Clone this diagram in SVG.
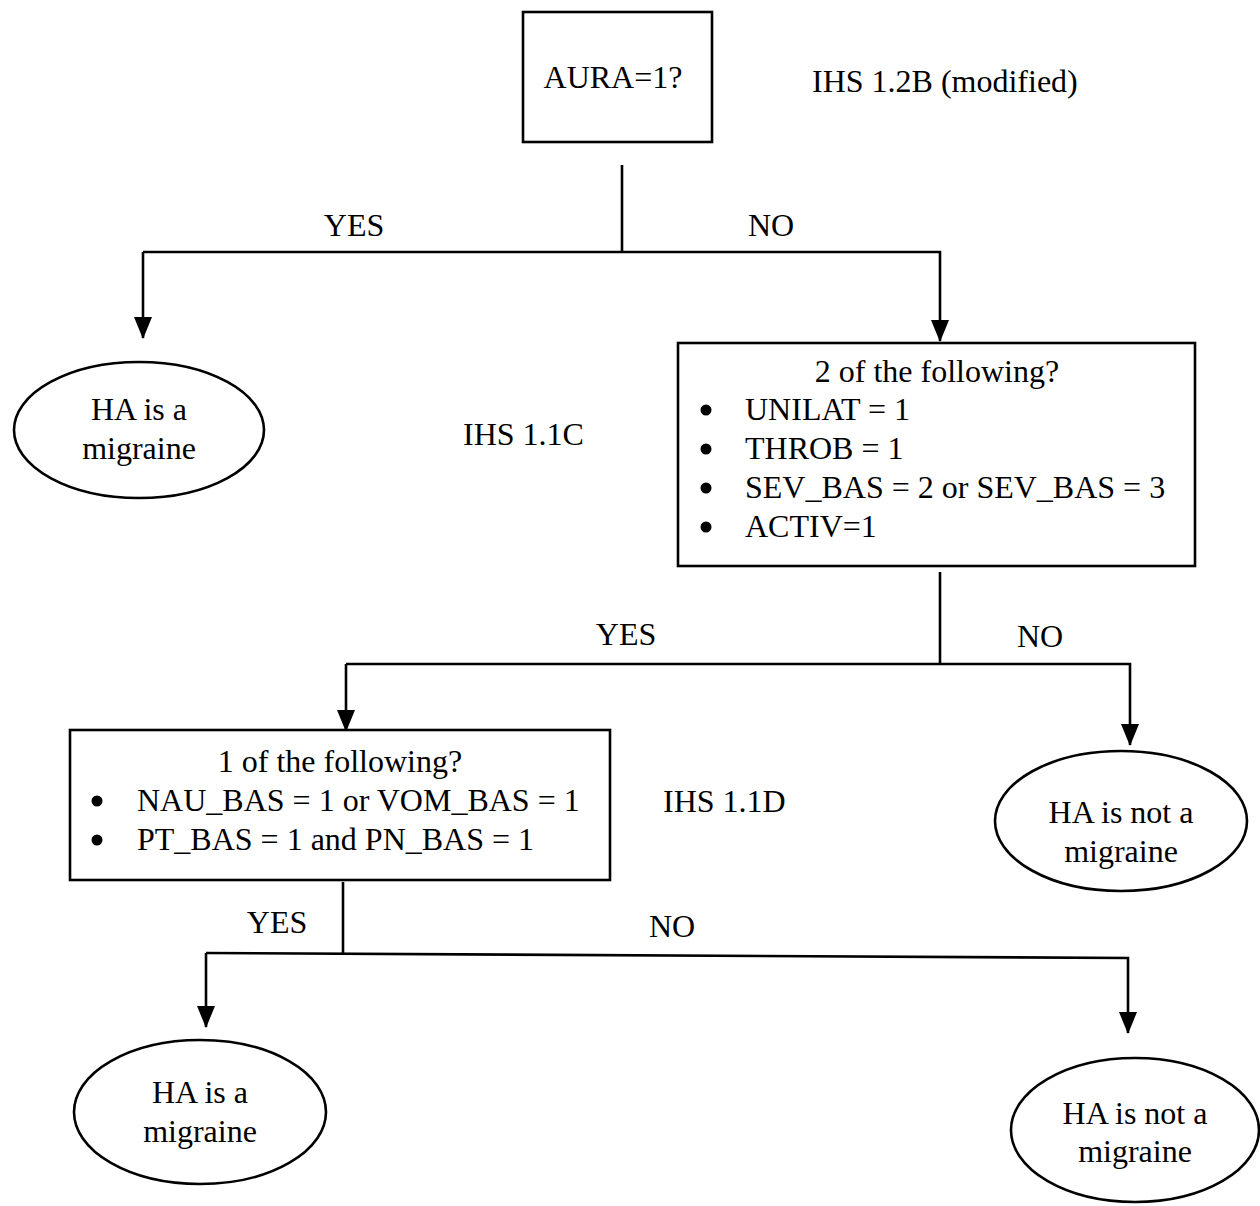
<svg xmlns="http://www.w3.org/2000/svg" width="1260" height="1206" viewBox="0 0 1260 1206">
<defs>
<style>
.box{fill:#fff;stroke:#000;stroke-width:2.6}
.ell{fill:#fff;stroke:#000;stroke-width:2.6}
.ln{fill:none;stroke:#000;stroke-width:2.6}
text{font-family:"Liberation Serif","Times New Roman",serif;font-size:32px;fill:#000}
.c{text-anchor:middle}
</style>
<marker id="ah" markerUnits="userSpaceOnUse" markerWidth="22" markerHeight="18" refX="21" refY="9" orient="auto" viewBox="0 0 22 18">
<path d="M0,0 L22,9 L0,18 Z" fill="#000"/>
</marker>
</defs>
<rect width="1260" height="1206" fill="#fff"/>

<g id="connectors">
<line class="ln" x1="622" y1="165" x2="622" y2="252"/>
<polyline class="ln" points="143,252 940,252 940,341" marker-end="url(#ah)"/>
<line class="ln" x1="143" y1="252" x2="143" y2="338" marker-end="url(#ah)"/>
<line class="ln" x1="940" y1="572" x2="940" y2="664"/>
<polyline class="ln" points="346,664 1130,664 1130,745" marker-end="url(#ah)"/>
<line class="ln" x1="346" y1="664" x2="346" y2="731" marker-end="url(#ah)"/>
<line class="ln" x1="343" y1="882" x2="343" y2="953"/>
<polyline class="ln" points="206,953 1128,958 1128,1033" marker-end="url(#ah)"/>
<line class="ln" x1="206" y1="953" x2="206" y2="1027" marker-end="url(#ah)"/>
<text class="c" x="354" y="236">YES</text>
<text class="c" x="771" y="236">NO</text>
<text class="c" x="626" y="645">YES</text>
<text class="c" x="1040" y="647">NO</text>
<text class="c" x="277" y="933">YES</text>
<text class="c" x="672" y="937">NO</text>
</g>

<g id="aura">
<rect class="box" x="523" y="12" width="189" height="130"/>
<text class="c" x="613" y="88">AURA=1?</text>
</g>

<g id="label-ihs12b">
<text x="812" y="92">IHS 1.2B (modified)</text>
</g>

<g id="migraine1">
<ellipse class="ell" cx="139" cy="430" rx="125" ry="68"/>
<text class="c" x="139" y="420">HA is a</text>
<text class="c" x="139" y="459">migraine</text>
</g>

<g id="label-ihs11c">
<text x="463" y="445">IHS 1.1C</text>
</g>

<g id="two-of">
<rect class="box" x="678" y="343" width="517" height="223"/>
<text class="c" x="937" y="382">2 of the following?</text>
<circle cx="706" cy="410" r="5.5"/>
<circle cx="706" cy="449" r="5.5"/>
<circle cx="706" cy="488" r="5.5"/>
<circle cx="706" cy="527" r="5.5"/>
<text x="745" y="420">UNILAT = 1</text>
<text x="745" y="459">THROB = 1</text>
<text x="745" y="498">SEV_BAS = 2 or SEV_BAS = 3</text>
<text x="745" y="537">ACTIV=1</text>
</g>

<g id="one-of">
<rect class="box" x="70" y="730" width="540" height="150"/>
<text class="c" x="340" y="772">1 of the following?</text>
<circle cx="97" cy="801" r="5.5"/>
<circle cx="97" cy="840" r="5.5"/>
<text x="137" y="811">NAU_BAS = 1 or VOM_BAS = 1</text>
<text x="137" y="850">PT_BAS = 1 and PN_BAS = 1</text>
</g>

<g id="label-ihs11d">
<text x="663" y="812">IHS 1.1D</text>
</g>

<g id="not-migraine1">
<ellipse class="ell" cx="1121" cy="821" rx="126" ry="70"/>
<text class="c" x="1121" y="823">HA is not a</text>
<text class="c" x="1121" y="862">migraine</text>
</g>

<g id="migraine2">
<ellipse class="ell" cx="200" cy="1112" rx="126" ry="72"/>
<text class="c" x="200" y="1103">HA is a</text>
<text class="c" x="200" y="1142">migraine</text>
</g>

<g id="not-migraine2">
<ellipse class="ell" cx="1135" cy="1130" rx="124" ry="72"/>
<text class="c" x="1135" y="1124">HA is not a</text>
<text class="c" x="1135" y="1162">migraine</text>
</g>
</svg>
